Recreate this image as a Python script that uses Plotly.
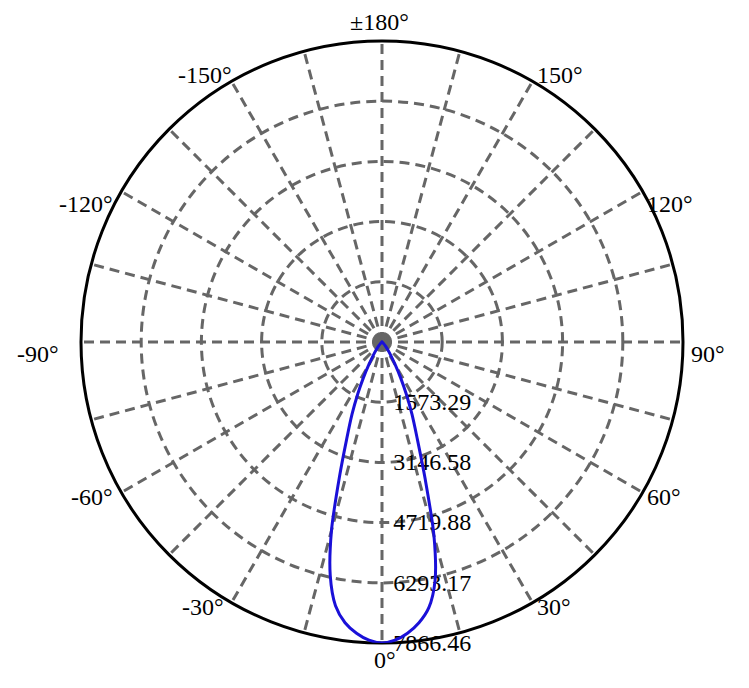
import math
import plotly.graph_objects as go

# Luminous intensity (cd) vs angle (deg)
angles = [-180, -90, -60, -50, -45, -40, -35, -30, -27.5, -25, -22.5, -20, -17.5, -15, -12.5, -10, -7.5, -5, -2.5,
          0, 2.5, 5, 7.5, 10, 12.5, 15, 17.5, 20, 22.5, 25, 27.5, 30, 35, 40, 45, 50, 60, 90, 180]
intensity = [0, 0, 0, 20, 60, 150, 330, 700, 1050, 1500, 2050, 2700, 3700, 5100, 6250, 7000, 7400, 7640, 7800,
             7866.46, 7800, 7640, 7400, 7050, 6400, 5250, 3750, 2700, 2050, 1500, 1050, 700, 330, 150, 60, 20, 0, 0, 0]

r_max = 7866.46
radial_ticks = [1573.29, 3146.58, 4719.88, 6293.17, 7866.46]
radial_labels = ["1573.29", "3146.58", "4719.88", "6293.17", "7866.46"]

angular_ticks = list(range(0, 360, 15))
label_angles = [0, 30, 60, 90, 120, 150, 180, -150, -120, -90, -60, -30]
label_texts = ["0°", "30°", "60°", "90°", "120°", "150°", "±180°", "-150°", "-120°", "-90°", "-60°", "-30°"]

font_family = "Liberation Serif"

W, H = 749, 688
ML, MR, MT, MB = 73, 74, 33, 53
PW, PH = W - ML - MR, H - MT - MB
RAD = min(PW, PH) / 2  # polar radius in pixels (centre at paper 0.5, 0.5)

fig = go.Figure()
fig.add_trace(go.Scatterpolar(
    r=intensity, theta=angles, mode="lines",
    line=dict(color="#1a10d8", width=3, shape="spline", smoothing=0.8),
    showlegend=False, hoverinfo="skip",
))

annotations = []
for ang, txt in zip(label_angles, label_texts):
    a = math.radians(ang)
    s, c = math.sin(a), math.cos(a)
    dx, dy = RAD * s, RAD * c  # dy positive = downwards on screen
    horiz = abs(abs(ang) - 90) < 1e-6
    if abs(s) < 1e-6:
        xa, xs = "center", (3 if ang == 0 else -3)
    elif s > 0:
        xa, xs = "left", (6 if horiz else 2)
    else:
        xa, xs = "right", (-20 if horiz else (2 if abs(ang) == 150 else -6))
    a_abs = abs(ang)
    if a_abs == 0:
        ya, ys = "top", -2
    elif a_abs < 90:
        ya, ys = "middle", -4
    elif a_abs <= 120:
        ya, ys = "middle", -12
    elif a_abs < 180:
        ya, ys = "bottom", -9
    else:
        ya, ys = "bottom", 4
    annotations.append(dict(
        x=0.5 + dx / PW, y=0.5 - dy / PH, xref="paper", yref="paper",
        text=txt, showarrow=False, xanchor=xa, yanchor=ya, xshift=xs, yshift=ys,
        font=dict(family=font_family, size=24, color="black"),
    ))

fig.update_layout(
    width=W, height=H,
    margin=dict(l=ML, r=MR, t=MT, b=MB),
    paper_bgcolor="white",
    font=dict(family=font_family, size=24, color="black"),
    annotations=annotations,
    polar=dict(
        bgcolor="white",
        radialaxis=dict(
            range=[0, r_max], tickvals=radial_ticks, ticktext=radial_labels,
            angle=270, tickangle=-90, side="counterclockwise",
            showline=False, ticks="outside", ticklen=6, tickcolor="rgba(0,0,0,0)",
            gridcolor="#666666", gridwidth=2.8, griddash="10px,6px",
            tickfont=dict(family=font_family, size=24, color="black"),
            layer="below traces",
        ),
        angularaxis=dict(
            rotation=270, direction="counterclockwise",
            tickvals=angular_ticks, showticklabels=False, ticks="",
            showline=True, linecolor="black", linewidth=3,
            gridcolor="#666666", gridwidth=2.8, griddash="10px,6px",
            layer="below traces",
        ),
    ),
)

fig.write_html("out.html")
